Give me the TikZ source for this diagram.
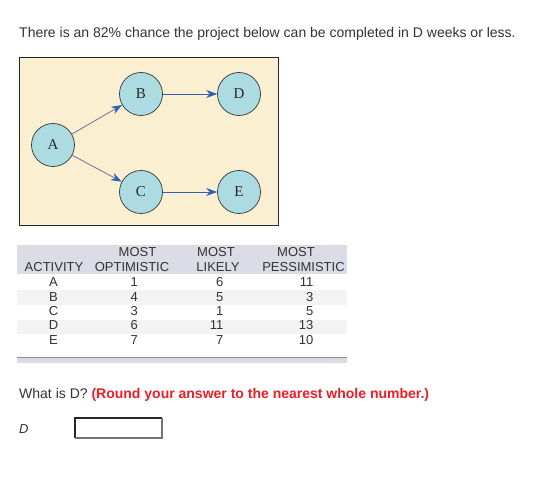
\documentclass[tikz,border=0pt]{standalone}
\usepackage{fontspec}
\setmainfont{Liberation Sans}
\newfontfamily\serifnode{Liberation Serif}
\usetikzlibrary{arrows.meta}
\definecolor{txt}{HTML}{333333}
\definecolor{panel}{HTML}{FBEFD2}
\definecolor{nodefill}{HTML}{ACDCE2}
\definecolor{arrblue}{HTML}{2F62B5}
\definecolor{arrgrey}{HTML}{6E6E9A}
\definecolor{hdr}{HTML}{DCDCE6}
\definecolor{stripe}{HTML}{F3F3F3}
\definecolor{qred}{HTML}{EE1C25}
\tikzset{
  evt/.style={circle,draw=black!80,line width=0.7pt,fill=nodefill,minimum size=43pt,inner sep=0pt,font=\serifnode\fontsize{15}{15}\selectfont,text=black!85},
  cell/.style={font=\fontsize{13}{13}\selectfont,text=txt,inner sep=0pt,anchor=base},
  num/.style={font=\fontsize{13}{13}\selectfont,text=txt,inner sep=0pt,anchor=base east},
  plain/.style={font=\fontsize{14}{14}\selectfont,text=txt,inner sep=0pt,anchor=base west}
}
\begin{document}
\begin{tikzpicture}[x=1pt,y=-1pt]
\useasboundingbox[fill=white] (0,0) rectangle (552,497);
% intro line
\node[plain] (intro) at (19,37.5) {There is an 82\% chance the project below can be completed in D weeks or less.};
% network panel
\draw[fill=panel,draw=black!85,line width=0.8pt] (19,57) rectangle (278,225);
\node[evt] (A) at (53,145) {A};
\node[evt] (B) at (141,94) {B};
\node[evt] (D) at (239,94) {D};
\node[evt] (C) at (141,192) {C};
\node[evt] (E) at (239,192) {E};
\draw[line width=0.8pt,draw=arrgrey,-{Stealth[length=11pt,width=8pt,color=arrblue]}] (A) -- (B);
\draw[line width=0.8pt,draw=arrgrey,-{Stealth[length=11pt,width=8pt,color=arrblue]}] (A) -- (C);
\draw[line width=0.8pt,draw=arrblue,-{Stealth[length=11pt,width=8pt]}] (B) -- (D);
\draw[line width=0.8pt,draw=arrblue,-{Stealth[length=11pt,width=8pt]}] (C) -- (E);
% table
\fill[hdr] (17,245) rectangle (347,274);
\fill[stripe] (17,290.2) rectangle (347,304.9);
\fill[stripe] (17,319.6) rectangle (347,334.3);
\node[cell] (h1a) at (137.5,257) {MOST};
\node[cell] (h2a) at (216,257) {MOST};
\node[cell] (h3a) at (296,257) {MOST};
\node[cell] (h0) at (54,272) {ACTIVITY};
\node[cell] (h1) at (132,272) {OPTIMISTIC};
\node[cell] (h2) at (218,272) {LIKELY};
\node[cell] (h3) at (303.5,272) {PESSIMISTIC};
\foreach \n/\a/\o/\m [count=\i] in {A/1/6/11,B/4/5/3,C/3/1/5,D/6/11/13,E/7/7/10}{
  \pgfmathsetmacro{\yy}{287+14.3*(\i-1)}
  \node[cell] (r\i a) at (53.5,\yy) {\n};
  \node[num] (r\i o) at (138,\yy) {\a};
  \node[num] (r\i m) at (223.5,\yy) {\o};
  \node[num] (r\i p) at (313.5,\yy) {\m};
}
\fill[hdr] (17,357) rectangle (347,363);
\draw[black!45,line width=0.8pt] (17,357) -- (347,357);
% question
\node[plain] (q) at (19,398) {What is D? {\bfseries\color{qred}(Round your answer to the nearest whole number.)}};
\node[plain,font=\fontsize{13}{13}\selectfont\itshape] (dlab) at (19,433) {D};
\node[draw=none,fill=white,minimum width=87pt,minimum height=20pt,inner sep=0pt] (box) at (118.5,428) {};
\draw[black!85,line width=1.8pt] (box.south west) -- (box.north west) -- (box.north east);
\draw[black!55,line width=1.8pt] (box.north east) -- (box.south east) -- (box.south west);
\end{tikzpicture}
\end{document}
